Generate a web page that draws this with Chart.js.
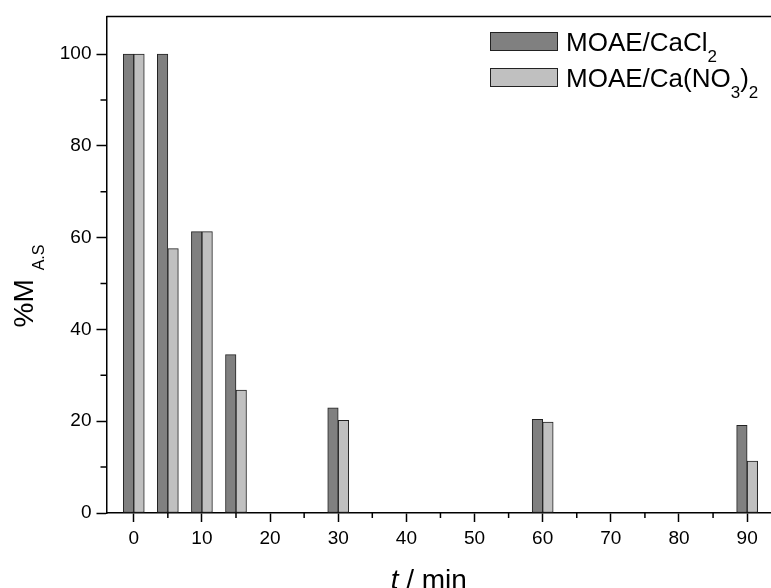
<!DOCTYPE html>
<html>
<head>
<meta charset="utf-8">
<script src="https://cdn.jsdelivr.net/npm/chart.js@4.4.0/dist/chart.umd.min.js"></script>
<style>
  html, body { margin: 0; padding: 0; background: #fff; }
  canvas { display: block; }
</style>
</head>
<body>
<canvas id="chart" width="771" height="588"></canvas>
<script>
// data
const times = [0, 5, 10, 15, 30, 60, 90];
const cacl2 = [100, 100, 61.3, 34.5, 22.9, 20.4, 19.1];
const caNo3 = [100, 57.6, 61.3, 26.8, 20.2, 19.8, 11.3];
const xTicks = [0, 10, 20, 30, 40, 50, 60, 70, 80, 90];
const xMinor = [5, 15, 25, 35, 45, 55, 65, 75, 85];
const yTicks = [0, 20, 40, 60, 80, 100];
const yMinor = [10, 30, 50, 70, 90];

const FONT = "'Liberation Sans', Arial, sans-serif";

// draw a row of text pieces (for subscripts / italics)
function drawRuns(ctx, runs, x, y, align) {
  let total = 0;
  runs.forEach(r => {
    ctx.font = (r.italic ? 'italic ' : '') + r.size + 'px ' + FONT;
    r.w = ctx.measureText(r.text).width;
    total += r.w;
  });
  let cx = align === 'center' ? x - total / 2 : x;
  runs.forEach(r => {
    ctx.font = (r.italic ? 'italic ' : '') + r.size + 'px ' + FONT;
    ctx.fillText(r.text, cx, y + (r.dy || 0));
    cx += r.w;
  });
}

const extras = {
  id: 'extras',
  afterDraw(chart) {
    const { ctx, chartArea: a, scales: { x, y } } = chart;
    ctx.save();
    ctx.strokeStyle = '#000';
    ctx.lineWidth = 1.5;
    ctx.beginPath();
    // top frame line
    ctx.moveTo(a.left, a.top);
    ctx.lineTo(a.right, a.top);
    // minor ticks
    xMinor.forEach(v => {
      const px = x.getPixelForValue(v);
      ctx.moveTo(px, a.bottom);
      ctx.lineTo(px, a.bottom + 5);
    });
    yMinor.forEach(v => {
      const py = y.getPixelForValue(v);
      ctx.moveTo(a.left, py);
      ctx.lineTo(a.left - 6, py);
    });
    ctx.stroke();

    ctx.fillStyle = '#000';
    ctx.textBaseline = 'alphabetic';
    ctx.textAlign = 'left';

    // x title
    drawRuns(ctx, [
      { text: 't', size: 28, italic: true },
      { text: ' / min', size: 28 }
    ], (a.left + a.right) / 2 - 10, 589, 'center');

    // y title
    ctx.save();
    ctx.translate(33, 286);
    ctx.rotate(-Math.PI / 2);
    drawRuns(ctx, [
      { text: '%M', size: 28 },
      { text: '  ', size: 16 },
      { text: 'A.S', size: 16, dy: 11 }
    ], 0, 0, 'center');
    ctx.restore();

    // legend
    const items = [
      { color: '#808080', runs: [{ text: 'MOAE/CaCl', size: 26 }, { text: '2', size: 17, dy: 11 }] },
      { color: '#c0c0c0', runs: [{ text: 'MOAE/Ca(NO', size: 26 }, { text: '3', size: 17, dy: 11 }, { text: ')', size: 26 }, { text: '2', size: 17, dy: 11 }] }
    ];
    items.forEach((it, i) => {
      const top = 32 + i * 36;
      ctx.fillStyle = it.color;
      ctx.fillRect(490, top, 68, 19);
      ctx.lineWidth = 1;
      ctx.strokeStyle = '#222';
      ctx.strokeRect(490.5, top + 0.5, 67, 18);
      ctx.fillStyle = '#000';
      drawRuns(ctx, it.runs, 566, top + 19, 'left');
    });
    ctx.restore();
  }
};

new Chart(document.getElementById('chart'), {
  type: 'bar',
  data: {
    datasets: [
      {
        label: 'MOAE/CaCl2',
        data: times.map((t, i) => ({ x: t, y: cacl2[i] })),
        backgroundColor: '#808080',
        borderColor: '#222',
        borderWidth: 1,
        borderSkipped: false,
        barThickness: 10.5
      },
      {
        label: 'MOAE/Ca(NO3)2',
        data: times.map((t, i) => ({ x: t, y: caNo3[i] })),
        backgroundColor: '#c0c0c0',
        borderColor: '#222',
        borderWidth: 1,
        borderSkipped: false,
        barThickness: 10.5
      }
    ]
  },
  options: {
    responsive: false,
    animation: false,
    layout: { padding: { top: 14, right: 0, left: 0, bottom: 0 } },
    plugins: {
      legend: { display: false },
      tooltip: { enabled: false }
    },
    scales: {
      x: {
        type: 'linear',
        min: -4,
        max: 93.5,
        offset: false,
        afterBuildTicks: s => { s.ticks = xTicks.map(v => ({ value: v })); },
        afterFit: s => { s.height = 75; },
        grid: { drawOnChartArea: false, offset: false, tickLength: 9, tickWidth: 1.5, tickColor: '#000' },
        border: { color: '#000', width: 1.5 },
        ticks: { color: '#000', font: { family: FONT, size: 19 }, padding: 5, maxRotation: 0, autoSkip: false }
      },
      y: {
        min: 0,
        max: 108.2,
        afterBuildTicks: s => { s.ticks = yTicks.map(v => ({ value: v })); },
        afterFit: s => { s.width = 106.5; },
        grid: { drawOnChartArea: false, tickLength: 10, tickWidth: 1.5, tickColor: '#000' },
        border: { color: '#000', width: 1.5 },
        ticks: { color: '#000', font: { family: FONT, size: 19 }, padding: 5 }
      }
    }
  },
  plugins: [extras]
});
</script>
</body>
</html>
